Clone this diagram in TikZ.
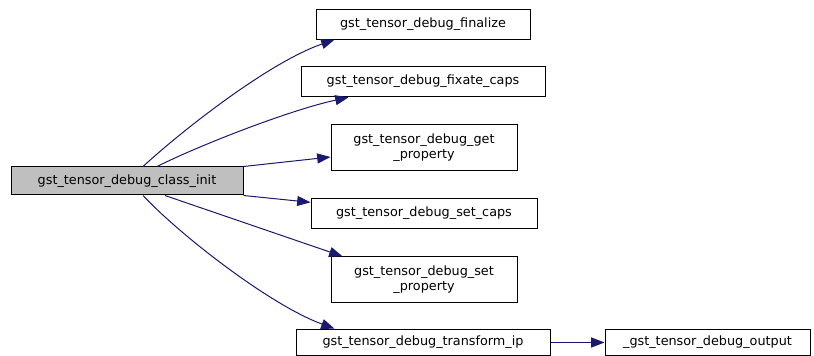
\documentclass[tikz,border=0pt]{standalone}
\usepackage{fontspec}
\setmainfont{DejaVu Sans}
\usetikzlibrary{arrows.meta,calc}

\definecolor{edgeblue}{HTML}{191970}
\definecolor{focusgray}{HTML}{BFBFBF}

\begin{document}
\begin{tikzpicture}[
  x=0.75pt, y=-0.75pt,
  fnbox/.style={rectangle, draw=black, line width=0.75pt, fill=white,
                inner sep=0pt, align=center,
                font=\fontsize{9.6}{11}\selectfont},
  focus/.style={fnbox, fill=focusgray},
  calledge/.style={draw=edgeblue, line width=0.75pt,
                   -{Triangle[length=10pt,width=7.5pt]}},
]
  \useasboundingbox (0,0) rectangle (814,356);

  % caller
  \node[focus, minimum width=174pt, minimum height=21pt] (init) at (127,181)
       {gst\_tensor\_debug\_class\_init};

  % callees
  \node[fnbox, minimum width=160.5pt, minimum height=22pt] (fin) at (423,24.5)
       {gst\_tensor\_debug\_finalize};
  \node[fnbox, minimum width=183pt, minimum height=23pt] (fix) at (423,81.5)
       {gst\_tensor\_debug\_fixate\_caps};
  \node[fnbox, minimum width=139.5pt, minimum height=34pt] (getp) at (424,147.5)
       {gst\_tensor\_debug\_get\\\_property};
  \node[fnbox, minimum width=169.5pt, minimum height=22pt] (setc) at (424,213.5)
       {gst\_tensor\_debug\_set\_caps};
  \node[fnbox, minimum width=139.5pt, minimum height=34pt] (setp) at (424,279.5)
       {gst\_tensor\_debug\_set\\\_property};
  \node[fnbox, minimum width=190.5pt, minimum height=20pt] (xfrm) at (423,342.5)
       {gst\_tensor\_debug\_transform\_ip};
  \node[fnbox, minimum width=153.75pt, minimum height=20pt] (outp) at (707.5,342.5)
       {\_gst\_tensor\_debug\_output};

  % calls
  \draw[calledge] ($(init.north)+(16,0)$) .. controls (185,128) and (270,62)
       .. ($(fin.south west)+(19,0)$);
  \draw[calledge] ($(init.north)+(30,0)$) .. controls (200,145) and (290,110)
       .. ($(fix.south west)+(48,0)$);
  \draw[calledge] ($(init.north east)+(0,0)$) -- ($(getp.west)+(0,9.5)$);
  \draw[calledge] (init.south east) -- ($(setc.north west)+(0,4)$);
  \draw[calledge] ($(init.south)+(38,0)$) -- ($(setp.north west)+(12,0)$);
  \draw[calledge] ($(init.south)+(16,0)$) .. controls (180,235) and (270,305)
       .. ($(xfrm.north west)+(39,0)$);
  \draw[calledge] (xfrm) -- (outp);

\end{tikzpicture}
\end{document}
